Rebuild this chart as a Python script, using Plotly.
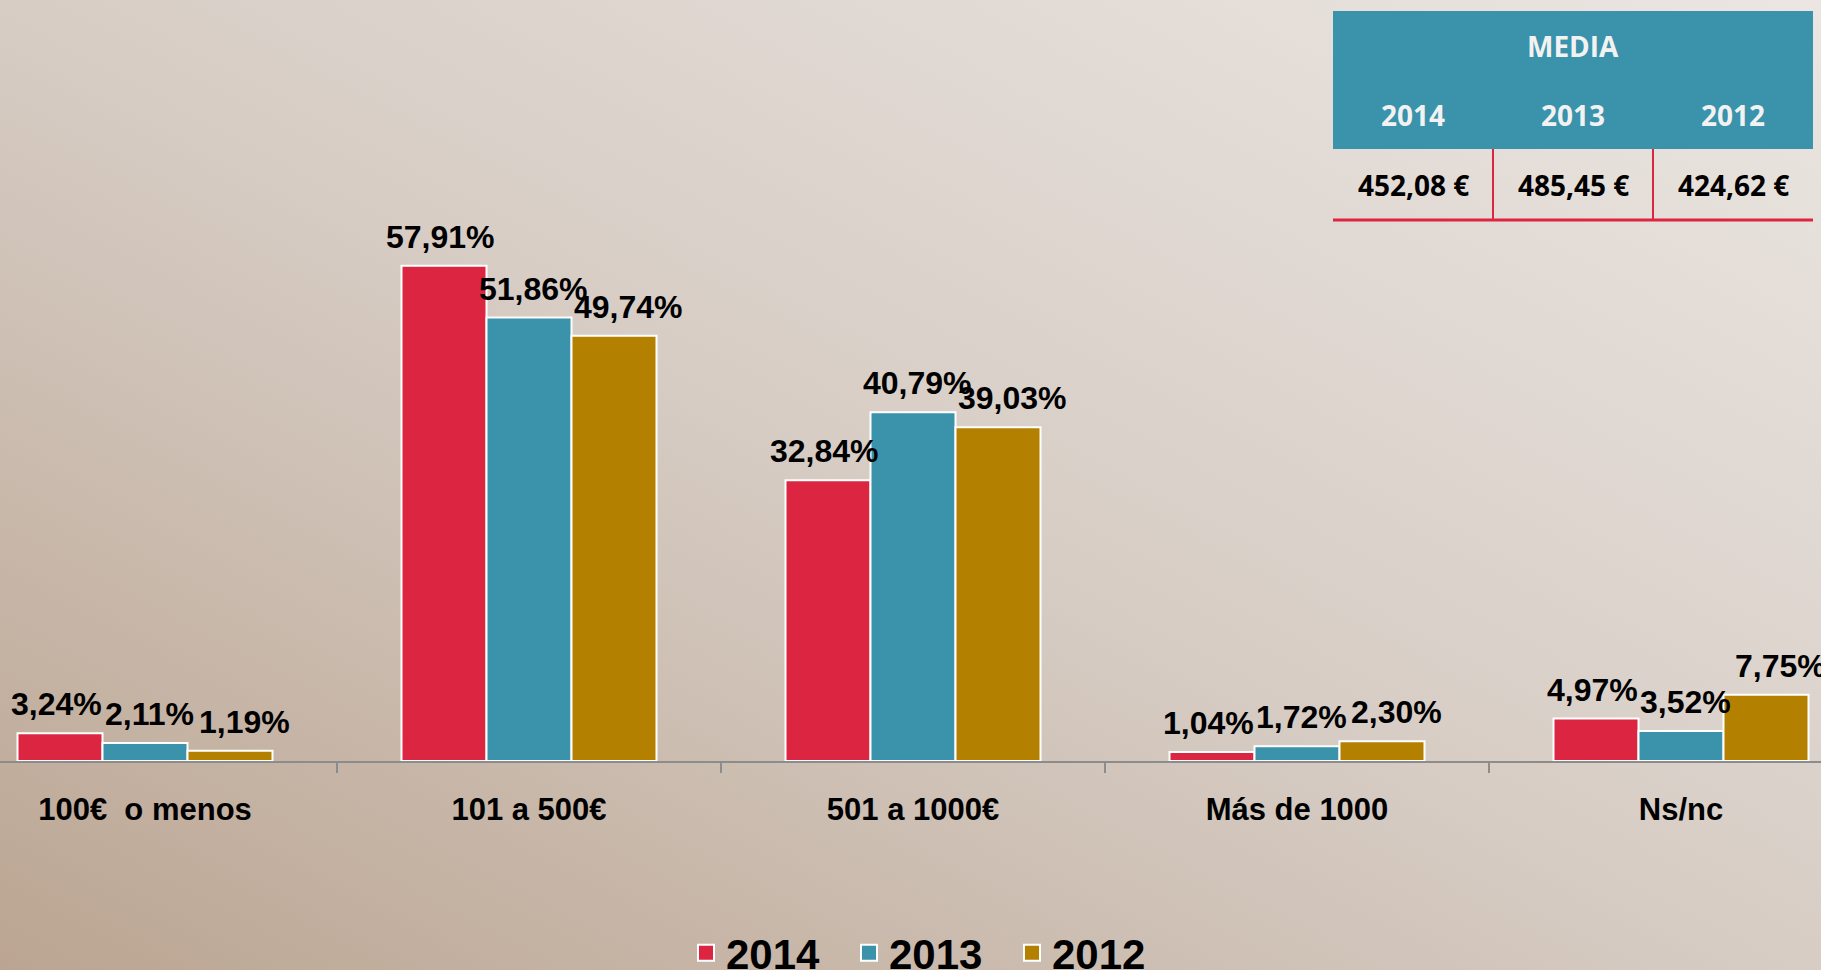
import base64
import plotly.graph_objects as go

# ---------------- data ----------------
categories = ["100€\u00a0 o menos", "101 a 500€", "501 a 1000€", "Más de 1000", "Ns/nc"]
years = ["2014", "2013", "2012"]
values_2014 = [3.24, 57.91, 32.84, 1.04, 4.97]
values_2013 = [2.11, 51.86, 40.79, 1.72, 3.52]
values_2012 = [1.19, 49.74, 39.03, 2.30, 7.75]
media_title = "MEDIA"
media_values = [452.08, 485.45, 424.62]

series_values = [values_2014, values_2013, values_2012]
series_colors = ["#DC2540", "#3A92AB", "#B38000"]

W, H = 1821, 970


def px(x):
    return x / W


def py(y):
    return 1 - y / H


label_font = dict(family="Liberation Sans, Arial, sans-serif", size=32,
                  color="black", weight="bold")

fig = go.Figure()

for name, vals, col in zip(years, series_values, series_colors):
    fig.add_trace(go.Bar(
        name=name, x=categories, y=vals,
        marker=dict(color=col, line=dict(color="white", width=2)),
        legendgroup=name, showlegend=False,
    ))
    # legend entry (bigger square symbol)
    fig.add_trace(go.Scatter(
        name=name, x=[None], y=[None], mode="markers",
        marker=dict(symbol="square", size=22, color=col,
                    line=dict(color="white", width=2)),
        legendgroup=name, showlegend=True,
    ))

# background gradient as svg image
svg = (
    '<svg xmlns="http://www.w3.org/2000/svg" width="1821" height="970" '
    'preserveAspectRatio="none" viewBox="0 0 1821 970">'
    '<defs><linearGradient id="g" x1="0" y1="1" x2="1" y2="0">'
    '<stop offset="0" stop-color="#bba592"/>'
    '<stop offset="0.5" stop-color="#d7cdc5"/>'
    '<stop offset="1" stop-color="#ebe6e2"/>'
    '</linearGradient></defs>'
    '<rect width="1821" height="970" fill="url(#g)"/></svg>'
)
svg_uri = "data:image/svg+xml;base64," + base64.b64encode(svg.encode()).decode()

shapes = []
annotations = []

# ---- value labels above bars (anchored on data coordinates) ----
bar_w = 85
series_nudge = [-4, 4, 14]
for i, vals in enumerate(series_values):
    for cat, v in zip(categories, vals):
        annotations.append(dict(
            x=cat, y=v, xref="x", yref="y",
            text=f"{v:.2f}".replace(".", ",") + "%",
            showarrow=False, xanchor="center", yanchor="middle",
            xshift=(i - 1) * bar_w + series_nudge[i], yshift=29,
            font=label_font,
        ))

# ---- MEDIA table ----
tx0, tx1 = 1333, 1813
col_w = (tx1 - tx0) / len(years)
head_top, head_bot, body_bot = 11, 149, 220
teal = "#3A92AB"
red = "#DC2540"
tab_font = "Open Sans, Lato, sans-serif"

shapes.append(dict(type="rect", xref="paper", yref="paper",
                   x0=px(tx0), x1=px(tx1), y0=py(head_bot), y1=py(head_top),
                   fillcolor=teal, line=dict(width=0), layer="above"))
shapes.append(dict(type="line", xref="paper", yref="paper",
                   x0=px(tx0), x1=px(tx1), y0=py(body_bot), y1=py(body_bot),
                   line=dict(color=red, width=3)))
for i in range(1, len(years)):
    xx = tx0 + i * col_w
    shapes.append(dict(type="line", xref="paper", yref="paper",
                       x0=px(xx), x1=px(xx), y0=py(head_bot), y1=py(body_bot),
                       line=dict(color=red, width=2)))

annotations.append(dict(text=media_title, xref="paper", yref="paper",
                        x=px((tx0 + tx1) / 2), y=py(46), showarrow=False,
                        xanchor="center", yanchor="middle",
                        font=dict(family=tab_font, size=28, color="#f2f2f2", weight="bold")))
for i, (yr, mv) in enumerate(zip(years, media_values)):
    cx = tx0 + (i + 0.5) * col_w
    annotations.append(dict(text=yr, xref="paper", yref="paper",
                            x=px(cx), y=py(115), showarrow=False,
                            xanchor="center", yanchor="middle",
                            font=dict(family=tab_font, size=28, color="#f2f2f2", weight="bold")))
    annotations.append(dict(text=f"{mv:.2f}".replace(".", ",") + " €",
                            xref="paper", yref="paper",
                            x=px(cx), y=py(185), showarrow=False,
                            xanchor="center", yanchor="middle",
                            font=dict(family=tab_font, size=28, color="black", weight="bold")))

baseline_px = 761
px_per_unit = 8.55
tick0, tick_step = 337, 384

fig.update_layout(
    width=W, height=H,
    margin=dict(l=0, r=0, t=0, b=0, autoexpand=False),
    paper_bgcolor="#d7cdc5",
    plot_bgcolor="rgba(0,0,0,0)",
    barmode="group", bargap=1 - 255 / 384, bargroupgap=0,
    separators=",.",
    images=[dict(source=svg_uri, xref="paper", yref="paper", x=0, y=1,
                 sizex=1, sizey=1, sizing="stretch", xanchor="left",
                 yanchor="top", layer="below")],
    shapes=shapes,
    annotations=annotations,
    showlegend=True,
    legend=dict(orientation="h", x=px(686), xanchor="left",
                y=py(953), yanchor="middle", bgcolor="rgba(0,0,0,0)",
                entrywidth=118,
                font=dict(family="Liberation Sans, Arial, sans-serif", size=42,
                          color="black", weight="bold")),
    xaxis=dict(
        domain=[0, 1],
        range=[0.5 - tick0 / tick_step, 0.5 + (W - tick0) / tick_step],
        showline=True, linecolor="#8c8c8c", linewidth=2,
        ticks="outside", tickson="boundaries", ticklen=10, tickwidth=2,
        tickcolor="#8c8c8c", showgrid=False, zeroline=False,
        tickfont=dict(family="Liberation Sans, Arial, sans-serif", size=31,
                      color="black", weight="bold"),
        ticklabelstandoff=20,
    ),
    yaxis=dict(
        domain=[1 - baseline_px / H, 1],
        range=[0, baseline_px / px_per_unit],
        visible=False, showgrid=False, zeroline=False,
    ),
)

fig.write_html("out.html", config={"displayModeBar": False},
               post_script="document.body.style.margin='0';")
